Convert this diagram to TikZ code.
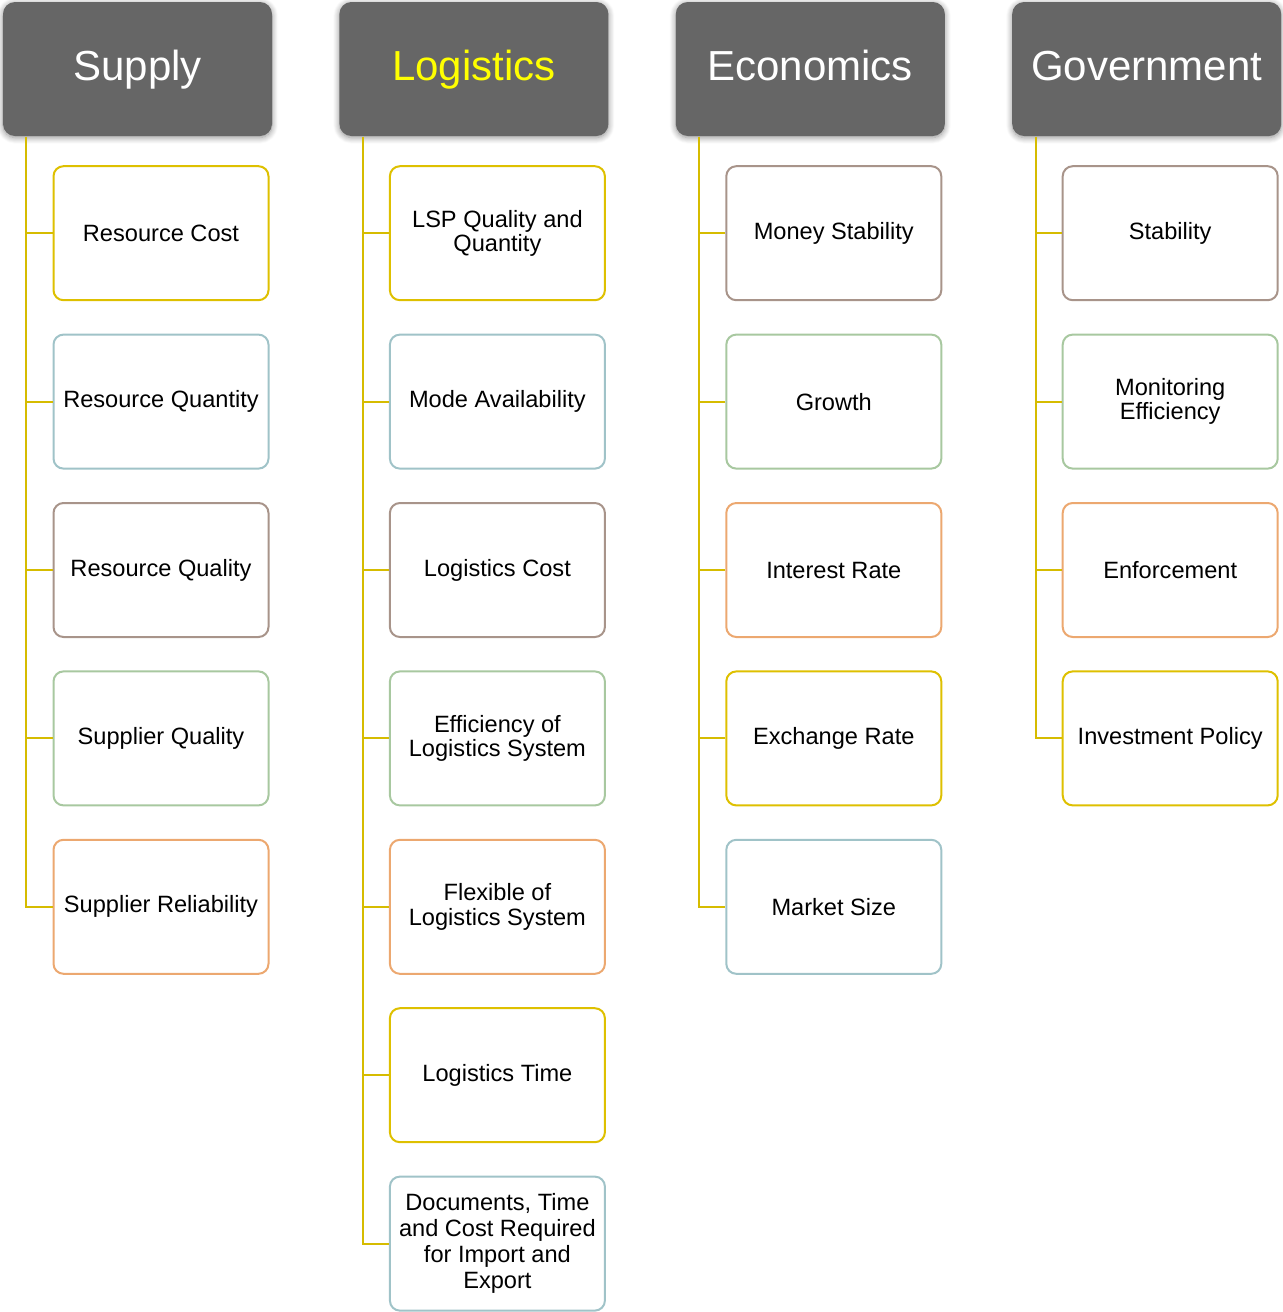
\documentclass[tikz,border=0pt]{standalone}
\usepackage{fontspec}
\setmainfont{Liberation Sans}
\usetikzlibrary{positioning,shadows.blur}

\definecolor{headgray}{HTML}{666666}
\definecolor{trunkyellow}{RGB}{214,188,0}
\definecolor{yellowline}{RGB}{222,192,0}
\definecolor{tealline}{RGB}{160,195,200}
\definecolor{brownline}{RGB}{168,148,138}
\definecolor{greenline}{RGB}{168,200,160}
\definecolor{orangeline}{RGB}{236,168,112}
\definecolor{headyellow}{RGB}{255,255,0}

\begin{document}
\begin{tikzpicture}[x=0.5pt,y=-0.5pt,node distance=168.2pt,semithick]
	\tikzstyle{header}=[rectangle,rounded corners=6pt,fill=headgray,text=white,
		minimum width=134.5pt,minimum height=67pt,inner sep=0pt,
		text height=16pt,text depth=5pt,
		font=\fontsize{21}{24}\selectfont,
		blur shadow={shadow xshift=0pt,shadow yshift=-0.8pt,shadow blur steps=8,shadow blur radius=3pt,shadow opacity=45}]
	\tikzstyle{item}=[rectangle,rounded corners=5pt,draw,line width=1pt,fill=white,
		minimum width=107.5pt,minimum height=67pt,inner sep=0pt,align=center,
		font=\fontsize{11.8}{12.2}\selectfont]
	\tikzstyle{conn}=[draw=trunkyellow,line width=1pt]

	\useasboundingbox (0,0) rectangle (1282,1312);

	% headers
	\node[header] (sup) at (137.5,69) {Supply};
	\node[header,text=headyellow] (log) [right of=sup] {Logistics};
	\node[header] (eco) [right of=log] {Economics};
	\node[header] (gov) [right of=eco] {Government};

	\tikzstyle{every node}=[node distance=84.2pt]

	% supply
	\node[item,draw=yellowline] (s1) [below of=sup,xshift=11.75pt,yshift=2.1pt] {Resource Cost};
	\node[item,draw=tealline] (s2) [below of=s1] {Resource Quantity};
	\node[item,draw=brownline] (s3) [below of=s2] {Resource Quality};
	\node[item,draw=greenline] (s4) [below of=s3] {Supplier Quality};
	\node[item,draw=orangeline] (s5) [below of=s4] {Supplier Reliability};

	% logistics
	\node[item,draw=yellowline] (l1) [below of=log,xshift=11.75pt,yshift=2.1pt] {LSP Quality and\\Quantity};
	\node[item,draw=tealline] (l2) [below of=l1] {Mode Availability};
	\node[item,draw=brownline] (l3) [below of=l2] {Logistics Cost};
	\node[item,draw=greenline] (l4) [below of=l3] {Efficiency of\\Logistics System};
	\node[item,draw=orangeline] (l5) [below of=l4] {Flexible of\\Logistics System};
	\node[item,draw=yellowline] (l6) [below of=l5] {Logistics Time};
	\node[item,draw=tealline,font=\fontsize{11.8}{13}\selectfont] (l7) [below of=l6] {Documents, Time\\and Cost Required\\for Import and\\Export};

	% economics
	\node[item,draw=brownline] (e1) [below of=eco,xshift=11.75pt,yshift=2.1pt] {Money Stability};
	\node[item,draw=greenline] (e2) [below of=e1] {Growth};
	\node[item,draw=orangeline] (e3) [below of=e2] {Interest Rate};
	\node[item,draw=yellowline] (e4) [below of=e3] {Exchange Rate};
	\node[item,draw=tealline] (e5) [below of=e4] {Market Size};

	% government
	\node[item,draw=brownline] (g1) [below of=gov,xshift=11.75pt,yshift=2.1pt] {Stability};
	\node[item,draw=greenline] (g2) [below of=g1] {Monitoring\\Efficiency};
	\node[item,draw=orangeline] (g3) [below of=g2] {Enforcement};
	\node[item,draw=yellowline] (g4) [below of=g3] {Investment Policy};

	% trunks
	\coordinate (st) at ([xshift=12pt]sup.south west);
	\coordinate (lt) at ([xshift=12pt]log.south west);
	\coordinate (et) at ([xshift=12pt]eco.south west);
	\coordinate (gt) at ([xshift=12pt]gov.south west);

	\draw[conn] (st) |- (s5.west);
	\draw[conn] (s1.west) -- (s1.west -| st);
	\draw[conn] (s2.west) -- (s2.west -| st);
	\draw[conn] (s3.west) -- (s3.west -| st);
	\draw[conn] (s4.west) -- (s4.west -| st);

	\draw[conn] (lt) |- (l7.west);
	\draw[conn] (l1.west) -- (l1.west -| lt);
	\draw[conn] (l2.west) -- (l2.west -| lt);
	\draw[conn] (l3.west) -- (l3.west -| lt);
	\draw[conn] (l4.west) -- (l4.west -| lt);
	\draw[conn] (l5.west) -- (l5.west -| lt);
	\draw[conn] (l6.west) -- (l6.west -| lt);

	\draw[conn] (et) |- (e5.west);
	\draw[conn] (e1.west) -- (e1.west -| et);
	\draw[conn] (e2.west) -- (e2.west -| et);
	\draw[conn] (e3.west) -- (e3.west -| et);
	\draw[conn] (e4.west) -- (e4.west -| et);

	\draw[conn] (gt) |- (g4.west);
	\draw[conn] (g1.west) -- (g1.west -| gt);
	\draw[conn] (g2.west) -- (g2.west -| gt);
	\draw[conn] (g3.west) -- (g3.west -| gt);
\end{tikzpicture}
\end{document}
